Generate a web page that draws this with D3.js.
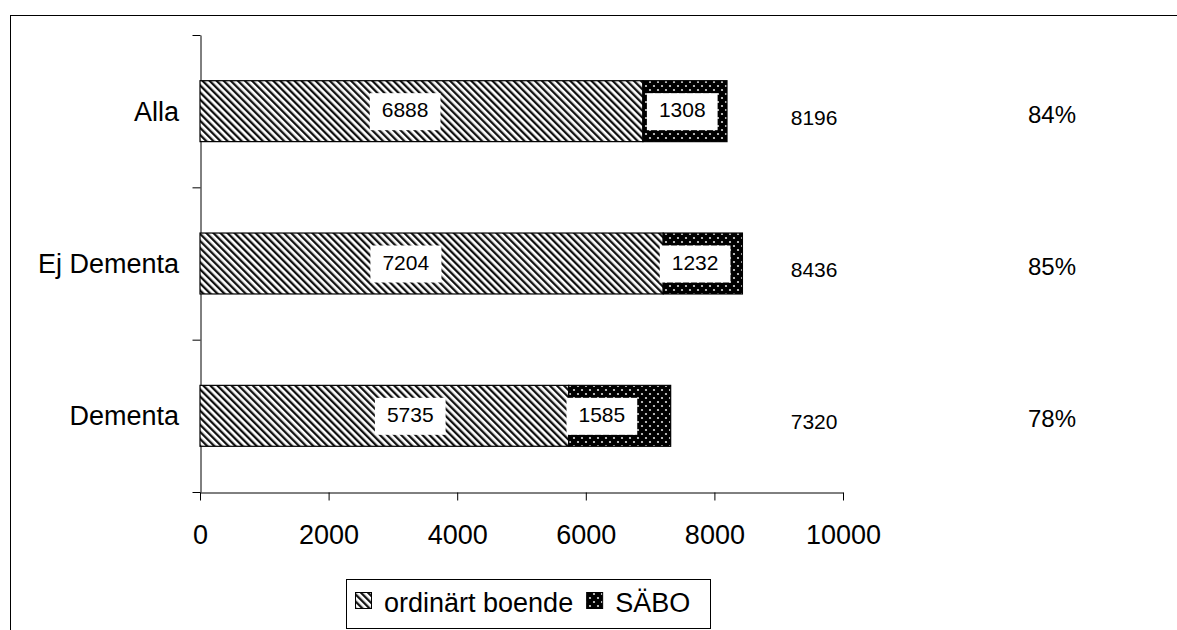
<!DOCTYPE html>
<html><head><meta charset="utf-8">
<script src="https://cdn.jsdelivr.net/npm/d3@7"></script>
<style>
body{margin:0;background:#fff}
svg{display:block}
text{font-family:"Liberation Sans",Arial,sans-serif;fill:#000}
</style>
</head><body>
<svg id="c" width="1177" height="630"></svg>
<script>
// ---- data ----
const categories = ["Alla", "Ej Dementa", "Dementa"];
const ordinart = [6888, 7204, 5735];
const sabo = [1308, 1232, 1585];
const totals = [8196, 8436, 7320];
const shares = ["84%", "85%", "78%"];
const xTicks = [0, 2000, 4000, 6000, 8000, 10000];
const seriesNames = ["ordinärt boende", "SÄBO"];
// where the value labels sit along the value axis
const ordLabelAt = [3190, 3200, 3270];
const sabLabelAt = [7500, 7700, 6250];

const svg = d3.select("#c");
const W = 1177, H = 630;
svg.append("rect").attr("width", W).attr("height", H).attr("fill", "#fff");

// patterns
const defs = svg.append("defs");
const pStripe = defs.append("pattern").attr("id", "stripe")
  .attr("patternUnits", "userSpaceOnUse").attr("width", 5).attr("height", 5)
  .attr("patternTransform", "rotate(-45)");
pStripe.append("rect").attr("width", 5).attr("height", 5).attr("fill", "#fff");
pStripe.append("rect").attr("width", 2.3).attr("height", 5).attr("fill", "#111");

const pDots = defs.append("pattern").attr("id", "dots")
  .attr("patternUnits", "userSpaceOnUse").attr("width", 8).attr("height", 8);
pDots.append("rect").attr("width", 8).attr("height", 8).attr("fill", "#000");
pDots.append("circle").attr("cx", 2).attr("cy", 2).attr("r", 1.1).attr("fill", "#ddd");
pDots.append("circle").attr("cx", 6).attr("cy", 6).attr("r", 1.1).attr("fill", "#ddd");

// outer frame
svg.append("rect").attr("x", 10.5).attr("y", 15.5).attr("width", 1200).attr("height", 700)
  .attr("fill", "none").attr("stroke", "#000").attr("stroke-width", 1);

// scales
const x = d3.scaleLinear().domain([0, 10000]).range([200, 843]);
const y = d3.scaleBand().domain(categories).range([35, 492]).paddingInner(0.6).paddingOuter(0.3);
const yEdge = d3.scaleLinear().domain([0, categories.length]).range([492, 35]);

// x axis
const gx = svg.append("g").attr("transform", "translate(0,492.5)")
  .call(d3.axisBottom(x).tickValues(xTicks).tickFormat(d3.format("d")).tickSize(8).tickSizeOuter(0));
gx.select(".domain").attr("stroke", "#000");
gx.selectAll(".tick line").attr("stroke", "#000");
gx.selectAll(".tick text").attr("y", 51).attr("dy", 0)
  .style("font-size", "27px").style("font-family", '"Liberation Sans",Arial,sans-serif');

// y axis (category boundary ticks)
const gy = svg.append("g").attr("transform", "translate(200.5,0)")
  .call(d3.axisLeft(yEdge).tickValues(d3.range(categories.length + 1)).tickFormat("").tickSize(8).tickSizeOuter(0));
gy.select(".domain").attr("stroke", "#000");
gy.selectAll(".tick line").attr("stroke", "#000");

// category labels
svg.append("g").selectAll("text").data(categories).join("text")
  .attr("x", 179).attr("y", d => y(d) + y.bandwidth() / 2).attr("dy", "0.35em")
  .attr("text-anchor", "end").style("font-size", "27px").text(d => d);

// bars
const rows = categories.map((c, i) => ({ c, a: ordinart[i], b: sabo[i], t: totals[i], s: shares[i], la: ordLabelAt[i], lb: sabLabelAt[i] }));
const bars = svg.append("g");
bars.selectAll("rect.ord").data(rows).join("rect").attr("class", "ord")
  .attr("x", x(0)).attr("y", d => y(d.c)).attr("width", d => x(d.a) - x(0)).attr("height", y.bandwidth())
  .attr("fill", "url(#stripe)").attr("stroke", "#000").attr("stroke-width", 1.2);
bars.selectAll("rect.sab").data(rows).join("rect").attr("class", "sab")
  .attr("x", d => x(d.a)).attr("y", d => y(d.c)).attr("width", d => x(d.a + d.b) - x(d.a)).attr("height", y.bandwidth())
  .attr("fill", "url(#dots)").attr("stroke", "#000").attr("stroke-width", 1.2);

// value labels with white boxes
function boxLabel(g, cx, cy, txt) {
  const t = g.append("text").attr("x", cx).attr("y", cy).attr("dy", "0.3em")
    .attr("text-anchor", "middle").style("font-size", "21px").text(txt);
  const bb = t.node().getBBox();
  g.insert("rect", () => t.node())
    .attr("x", bb.x - 12).attr("y", cy - 18).attr("width", bb.width + 24).attr("height", 37)
    .attr("fill", "#fff");
}
const lab = svg.append("g");
rows.forEach(d => {
  const cy = y(d.c) + y.bandwidth() / 2;
  boxLabel(lab, x(d.la), cy, d.a);
  boxLabel(lab, x(d.lb), cy, d.b);
});

// totals and shares
svg.append("g").selectAll("text").data(rows).join("text")
  .attr("x", x(9550)).attr("y", d => y(d.c) + y.bandwidth() / 2 + 6).attr("dy", "0.35em")
  .attr("text-anchor", "middle").style("font-size", "21px").text(d => d.t);
svg.append("g").selectAll("text").data(rows).join("text")
  .attr("x", x(13250)).attr("y", d => y(d.c) + y.bandwidth() / 2 + 3).attr("dy", "0.35em")
  .attr("text-anchor", "middle").style("font-size", "24px").text(d => d.s);

// legend
const lg = svg.append("g");
lg.append("rect").attr("x", 346.5).attr("y", 579.5).attr("width", 364).attr("height", 49)
  .attr("fill", "#fff").attr("stroke", "#000").attr("stroke-width", 1);
let lx = 355;
const fills = ["url(#stripe)", "url(#dots)"];
seriesNames.forEach((n, i) => {
  lg.append("rect").attr("x", lx + 0.5).attr("y", 592.5).attr("width", 16).attr("height", 16)
    .attr("fill", fills[i]).attr("stroke", "#000").attr("stroke-width", 1);
  const t = lg.append("text").attr("x", lx + 29).attr("y", 612).style("font-size", "27px").text(n);
  lx = lx + 29 + t.node().getComputedTextLength() + 13;
});
</script>
</body></html>
